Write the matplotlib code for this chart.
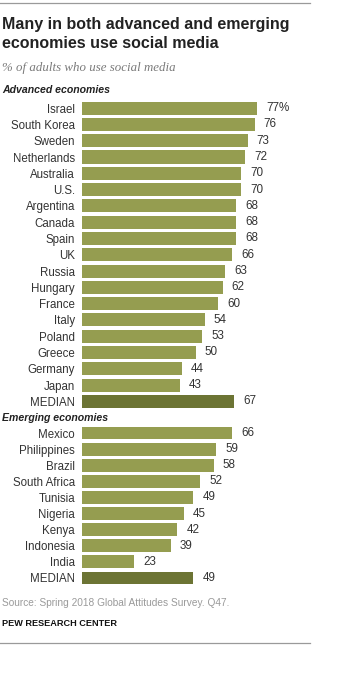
import matplotlib
matplotlib.use("Agg")
import matplotlib.pyplot as plt
from matplotlib.lines import Line2D

plt.rcParams["font.family"] = ["Liberation Sans", "DejaVu Sans"]

adv_countries = ["Israel", "South Korea", "Sweden", "Netherlands", "Australia", "U.S.",
                 "Argentina", "Canada", "Spain", "UK", "Russia", "Hungary", "France",
                 "Italy", "Poland", "Greece", "Germany", "Japan", "MEDIAN"]
adv_values = [77, 76, 73, 72, 70, 70, 68, 68, 68, 66, 63, 62, 60, 54, 53, 50, 44, 43, 67]

emg_countries = ["Mexico", "Philippines", "Brazil", "South Africa", "Tunisia", "Nigeria",
                 "Kenya", "Indonesia", "India", "MEDIAN"]
emg_values = [66, 59, 58, 52, 49, 45, 42, 39, 23, 49]

bar_color = "#959d50"
median_color = "#6c7434"
text_color = "#333333"

W, H = 338, 700
fig = plt.figure(figsize=(W / 100, H / 100), dpi=100)
fig.patch.set_facecolor("white")


def px_axes(left, top, width, height):
    return fig.add_axes([left / W, 1 - (top + height) / H, width / W, height / H])


def draw_group(ax, names, vals):
    n = len(names)
    colors = [median_color if c == "MEDIAN" else bar_color for c in names]
    ax.barh(range(n), vals, height=0.8, color=colors)
    ax.set_ylim(n - 0.5, -0.5)
    ax.set_xlim(0, 100)
    ax.set_yticks(range(n))
    ax.set_yticklabels(names, fontsize=8.3, color=text_color)
    ax.tick_params(axis="y", length=0, pad=5)
    ax.set_xticks([])
    for s in ax.spines.values():
        s.set_visible(False)
    ax.patch.set_alpha(0)
    for i, v in enumerate(vals):
        lab = f"{v}%" if i == 0 and names is adv_countries else str(v)
        ax.text(v + 4, i, lab, va="center", ha="left", fontsize=8.4, color=text_color)


ax1 = px_axes(82, 100, 227, 309.5)
draw_group(ax1, adv_countries, adv_values)
ax2 = px_axes(82, 425, 227, 161)
draw_group(ax2, emg_countries, emg_values)

# frame lines
fig.add_artist(Line2D([0, 310 / W], [1 - 3 / H, 1 - 3 / H], color="#9a9a9a", lw=0.9))
fig.add_artist(Line2D([0, 310 / W], [1 - 643 / H, 1 - 643 / H], color="#9a9a9a", lw=0.9))

fig.text(2 / W, 1 - 29 / H, "Many in both advanced and emerging",
         fontsize=11.5, fontweight="bold", color="#222222", va="baseline")
fig.text(2 / W, 1 - 48 / H, "economies use social media",
         fontsize=11.5, fontweight="bold", color="#222222", va="baseline")
fig.text(2 / W, 1 - 71 / H, "% of adults who use social media",
         fontsize=9.3, style="italic", color="#7a7a7a", va="baseline",
         family=["Liberation Serif", "DejaVu Serif"])
fig.text(2 / W, 1 - 93 / H, "Advanced economies", fontsize=7.6,
         fontweight="bold", style="italic", color="#222222", va="baseline")
fig.text(2 / W, 1 - 421 / H, "Emerging economies", fontsize=7.6,
         fontweight="bold", style="italic", color="#222222", va="baseline")
fig.text(2 / W, 1 - 606 / H, "Source: Spring 2018 Global Attitudes Survey. Q47.",
         fontsize=7.3, color="#9a9a9a", va="baseline")
fig.text(2 / W, 1 - 626 / H, "PEW RESEARCH CENTER", fontsize=6.6,
         fontweight="bold", color="#111111", va="baseline")

fig.savefig("out.png", dpi=100, facecolor="white")
